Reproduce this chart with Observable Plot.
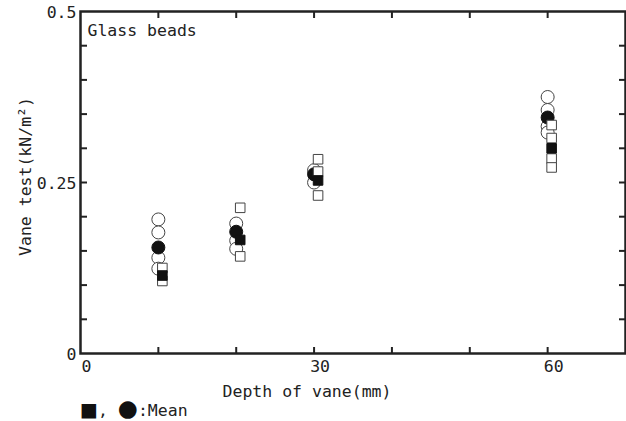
<!DOCTYPE html>
<html>
<head>
<meta charset="utf-8">
<script src="https://cdn.jsdelivr.net/npm/d3@7"></script>
<script src="https://cdn.jsdelivr.net/npm/@observablehq/plot@0.6"></script>
<style>
  html, body { margin: 0; background: #fff; }
  #chart svg { display: block; }
  #legend { font-family: "DejaVu Sans Mono", monospace; font-size: 16.5px; color: #222; height: 21px; line-height: 16px; padding-left: 80px; white-space: pre; }
  #legend .sq { font-family: "DejaVu Sans", sans-serif; font-size: 19px; color: #111; }
  #legend .ci { font-family: "DejaVu Sans", sans-serif; font-size: 23px; color: #111; }
</style>
</head>
<body>
<div id="chart"></div>
<div id="legend"></div>
<script>
// Data
const circleDepth = [10, 10, 10, 10, 20, 20, 20, 30, 30, 60, 60, 60, 60];
const circleValue = [0.196, 0.177, 0.140, 0.124, 0.190, 0.165, 0.153, 0.268, 0.250, 0.375, 0.356, 0.332, 0.323];
const meanDepth = [10, 20, 30, 60];
const circleMean = [0.155, 0.178, 0.262, 0.345];
const squareDepth = [10, 10, 20, 20, 30, 30, 30, 60, 60, 60, 60];
const squareValue = [0.125, 0.106, 0.213, 0.142, 0.284, 0.266, 0.231, 0.334, 0.315, 0.285, 0.272];
const squareMean = [0.114, 0.166, 0.253, 0.300];
const xTickLabels = [0, 30, 60];
const xMinorTicks = [10, 20, 30, 40, 50, 60];
const yTickLabels = [0, 0.25, 0.5];
const yMinorTicks = [0.05, 0.1, 0.15, 0.2, 0.25, 0.3, 0.35, 0.4, 0.45];
const title = "Glass beads";
const xLabel = "Depth of vane(mm)";
const yLabel = "Vane test(kN/m\u00b2)";
const legendSquare = "\u25a0";
const legendCircle = "\u25cf";
const legendText = ":Mean";

const pts = (xs, ys) => xs.map((d, i) => ({depth: d, value: ys[i]}));
const openCircles = pts(circleDepth, circleValue);
const meanCircles = pts(meanDepth, circleMean);
const openSquares = pts(squareDepth, squareValue);
const meanSquares = pts(meanDepth, squareMean);

const ink = "#222";
const fs = 16.5;
const chart = Plot.plot({
  width: 626,
  height: 400,
  marginLeft: 80,
  marginRight: 1,
  marginTop: 11,
  marginBottom: 47,
  style: {fontFamily: "'DejaVu Sans Mono', monospace", fontSize: fs + "px", color: ink, background: "white"},
  x: {domain: [0, 70]},
  y: {domain: [0, 0.5]},
  marks: [
    // inward minor ticks
    Plot.axisX(xMinorTicks, {anchor: "bottom", tickSize: -6, tickFormat: () => "", stroke: ink, strokeWidth: 2, label: null}),
    Plot.axisX(xMinorTicks, {anchor: "top", tickSize: -6, tickFormat: () => "", stroke: ink, strokeWidth: 2, label: null}),
    Plot.axisY(yMinorTicks, {anchor: "left", tickSize: -7, tickFormat: () => "", stroke: ink, strokeWidth: 2, label: null}),
    Plot.axisY(yMinorTicks, {anchor: "right", tickSize: -7, tickFormat: () => "", stroke: ink, strokeWidth: 2, label: null}),
    // tick labels
    Plot.axisX(xTickLabels, {anchor: "bottom", tickSize: 0, tickPadding: 7, dx: 6, fill: ink, fontSize: fs, label: null}),
    Plot.axisY(yTickLabels, {anchor: "left", tickSize: 0, tickPadding: 4, dy: 1, fill: ink, fontSize: fs, label: null, tickFormat: d => String(d)}),
    // axis titles
    Plot.text([xLabel], {frameAnchor: "bottom", dx: -46, dy: 43, fill: ink, fontSize: fs}),
    Plot.text([yLabel], {frameAnchor: "left", textAnchor: "middle", rotate: -90, dx: -55, dy: -6, fill: ink, fontSize: fs}),
    Plot.text([title], {frameAnchor: "top-left", dx: 7, dy: 13, textAnchor: "start", fill: ink, fontSize: fs}),
    // data
    Plot.dot(openCircles, {x: "depth", y: "value", r: 6.5, fill: "white", stroke: "#444", strokeWidth: 1}),
    Plot.dot(meanCircles, {x: "depth", y: "value", r: 6.5, fill: "#111", stroke: "#111", strokeWidth: 1}),
    Plot.dot(openSquares, {x: "depth", y: "value", dx: 4, symbol: "square", r: 5.4, fill: "white", stroke: "#444", strokeWidth: 1}),
    Plot.dot(meanSquares, {x: "depth", y: "value", dx: 4, symbol: "square", r: 5.4, fill: "#111", stroke: "#111", strokeWidth: 1}),
    Plot.frame({stroke: ink, strokeWidth: 2.5})
  ]
});
document.getElementById("chart").append(chart);
const legend = document.getElementById("legend");
const sq = document.createElement("span"); sq.className = "sq"; sq.textContent = legendSquare;
const ci = document.createElement("span"); ci.className = "ci"; ci.textContent = legendCircle;
legend.append(sq, ", ", ci, legendText);
</script>
</body>
</html>
